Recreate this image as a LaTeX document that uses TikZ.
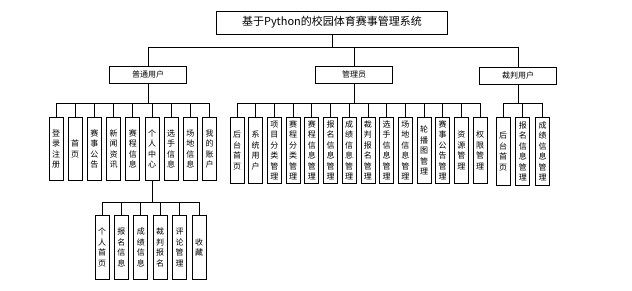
\documentclass[tikz,border=0pt]{standalone}
\usepackage{fontspec}
\setmainfont{Noto Sans CJK SC}
\usepackage{tikz}
\usetikzlibrary{positioning}

\begin{document}
\begin{tikzpicture}[
    x=1pt, y=-1pt,
    title/.style={rectangle, draw=black, fill=white, line width=0.8pt, minimum width=231pt, minimum height=23pt, font=\fontsize{11}{13}\selectfont},
    role/.style={rectangle, draw=black, fill=white, line width=0.8pt, minimum width=77pt, minimum height=17pt, font=\fontsize{8}{10}\selectfont},
    leaf/.style={rectangle, draw=black, fill=white, line width=0.8pt, minimum width=14pt, minimum height=64pt, inner sep=1pt, align=center, font=\fontsize{8}{10.5}\selectfont},
    line/.style={draw=black, line width=0.8pt}
]
\useasboundingbox (0,0) rectangle (632,290);

% Levels
\coordinate (topbus) at (0,47);
\coordinate (midbus) at (0,103);
\coordinate (lowbus) at (0,202);

% Nodes
\node (sys) [title] at (332,22.5) {基于Python的校园体育赛事管理系统};
\node (user) [role] at (148,74.5) {普通用户};
\node (admin) [role] at (354,74.5) {管理员};
\node (judge) [role] at (518,75.5) {裁判用户};

% Ordinary user
\node (login) [leaf, minimum height=63pt, anchor=north] at (56,117) {登\\录\\注\\册};
\node (home) [leaf, minimum height=63pt, right=4.4pt of login] {首\\页};
\node (notice) [leaf, minimum height=63pt, right=4.4pt of home] {赛\\事\\公\\告};
\node (news) [leaf, minimum height=63pt, right=4.4pt of notice] {新\\闻\\资\\讯};
\node (sched) [leaf, minimum height=63pt, right=4.4pt of news] {赛\\程\\信\\息};
\node (center) [leaf, minimum height=63pt, right=4.4pt of sched] {个\\人\\中\\心};
\node (player) [leaf, minimum height=63pt, right=4.4pt of center] {选\\手\\信\\息};
\node (venue) [leaf, minimum height=63pt, right=4.4pt of player] {场\\地\\信\\息};
\node (account) [leaf, minimum height=63pt, right=4.4pt of venue] {我\\的\\账\\户};

% Personal center
\node (pHome) [leaf, anchor=north] at (102,215) {个\\人\\首\\页};
\node (pSignup) [leaf, right=4.6pt of pHome] {报\\名\\信\\息};
\node (pScore) [leaf, right=4.6pt of pSignup] {成\\绩\\信\\息};
\node (pReferee) [leaf, right=4.6pt of pScore] {裁\\判\\报\\名};
\node (pComment) [leaf, right=4.6pt of pReferee] {评\\论\\管\\理};
\node (pFav) [leaf, right=4.6pt of pComment] {收\\藏};

% Administrator
\node (aHome) [leaf, minimum height=66pt, anchor=north] at (237,117) {后\\台\\首\\页};
\node (aUsers) [leaf, minimum height=66pt, right=3.9pt of aHome] {系\\统\\用\\户};
\node (aCat) [leaf, minimum height=66pt, right=3.9pt of aUsers] {项\\目\\分\\类\\管\\理};
\node (aSchedCat) [leaf, minimum height=66pt, right=3.9pt of aCat] {赛\\程\\分\\类\\管\\理};
\node (aSched) [leaf, minimum height=66pt, right=3.9pt of aSchedCat] {赛\\程\\信\\息\\管\\理};
\node (aSignup) [leaf, minimum height=66pt, right=3.9pt of aSched] {报\\名\\信\\息\\管\\理};
\node (aScore) [leaf, minimum height=66pt, right=3.9pt of aSignup] {成\\绩\\信\\息\\管\\理};
\node (aReferee) [leaf, minimum height=66pt, right=3.9pt of aScore] {裁\\判\\报\\名\\管\\理};
\node (aPlayer) [leaf, minimum height=66pt, right=3.9pt of aReferee] {选\\手\\信\\息\\管\\理};
\node (aVenue) [leaf, minimum height=66pt, right=3.9pt of aPlayer] {场\\地\\信\\息\\管\\理};
\node (aBanner) [leaf, minimum height=66pt, right=3.9pt of aVenue] {轮\\播\\图\\管\\理};
\node (aNotice) [leaf, minimum height=66pt, right=3.9pt of aBanner] {赛\\事\\公\\告\\管\\理};
\node (aRes) [leaf, minimum height=66pt, right=3.9pt of aNotice] {资\\源\\管\\理};
\node (aPerm) [leaf, minimum height=66pt, right=3.9pt of aRes] {权\\限\\管\\理};

% Referee
\node (jHome) [leaf, minimum height=68pt, anchor=north] at (503,117) {后\\台\\首\\页};
\node (jSignup) [leaf, minimum height=68pt, right=5pt of jHome] {报\\名\\信\\息\\管\\理};
\node (jScore) [leaf, minimum height=68pt, right=5pt of jSignup] {成\\绩\\信\\息\\管\\理};

% Connectors
\path [line] (sys.south) -- (sys.south |- topbus) -| (user.north);
\path [line] (sys.south) -- (sys.south |- topbus) -| (admin.north);
\path [line] (sys.south) -- (sys.south |- topbus) -| (judge.north);

\path [line] (user.south) -- (user.south |- midbus) -| (login.north);
\path [line] (user.south) -- (user.south |- midbus) -| (home.north);
\path [line] (user.south) -- (user.south |- midbus) -| (notice.north);
\path [line] (user.south) -- (user.south |- midbus) -| (news.north);
\path [line] (user.south) -- (user.south |- midbus) -| (sched.north);
\path [line] (user.south) -- (user.south |- midbus) -| (center.north);
\path [line] (user.south) -- (user.south |- midbus) -| (player.north);
\path [line] (user.south) -- (user.south |- midbus) -| (venue.north);
\path [line] (user.south) -- (user.south |- midbus) -| (account.north);

\path [line] (center.south) -- (center.south |- lowbus) -| (pHome.north);
\path [line] (center.south) -- (center.south |- lowbus) -| (pSignup.north);
\path [line] (center.south) -- (center.south |- lowbus) -| (pScore.north);
\path [line] (center.south) -- (center.south |- lowbus) -| (pReferee.north);
\path [line] (center.south) -- (center.south |- lowbus) -| (pComment.north);
\path [line] (center.south) -- (center.south |- lowbus) -| (pFav.north);

\path [line] (admin.south) -- (admin.south |- midbus) -| (aHome.north);
\path [line] (admin.south) -- (admin.south |- midbus) -| (aUsers.north);
\path [line] (admin.south) -- (admin.south |- midbus) -| (aCat.north);
\path [line] (admin.south) -- (admin.south |- midbus) -| (aSchedCat.north);
\path [line] (admin.south) -- (admin.south |- midbus) -| (aSched.north);
\path [line] (admin.south) -- (admin.south |- midbus) -| (aSignup.north);
\path [line] (admin.south) -- (admin.south |- midbus) -| (aScore.north);
\path [line] (admin.south) -- (admin.south |- midbus) -| (aReferee.north);
\path [line] (admin.south) -- (admin.south |- midbus) -| (aPlayer.north);
\path [line] (admin.south) -- (admin.south |- midbus) -| (aVenue.north);
\path [line] (admin.south) -- (admin.south |- midbus) -| (aBanner.north);
\path [line] (admin.south) -- (admin.south |- midbus) -| (aNotice.north);
\path [line] (admin.south) -- (admin.south |- midbus) -| (aRes.north);
\path [line] (admin.south) -- (admin.south |- midbus) -| (aPerm.north);

\path [line] (judge.south) -- (judge.south |- midbus) -| (jHome.north);
\path [line] (judge.south) -- (judge.south |- midbus) -| (jSignup.north);
\path [line] (judge.south) -- (judge.south |- midbus) -| (jScore.north);

\end{tikzpicture}
\end{document}
